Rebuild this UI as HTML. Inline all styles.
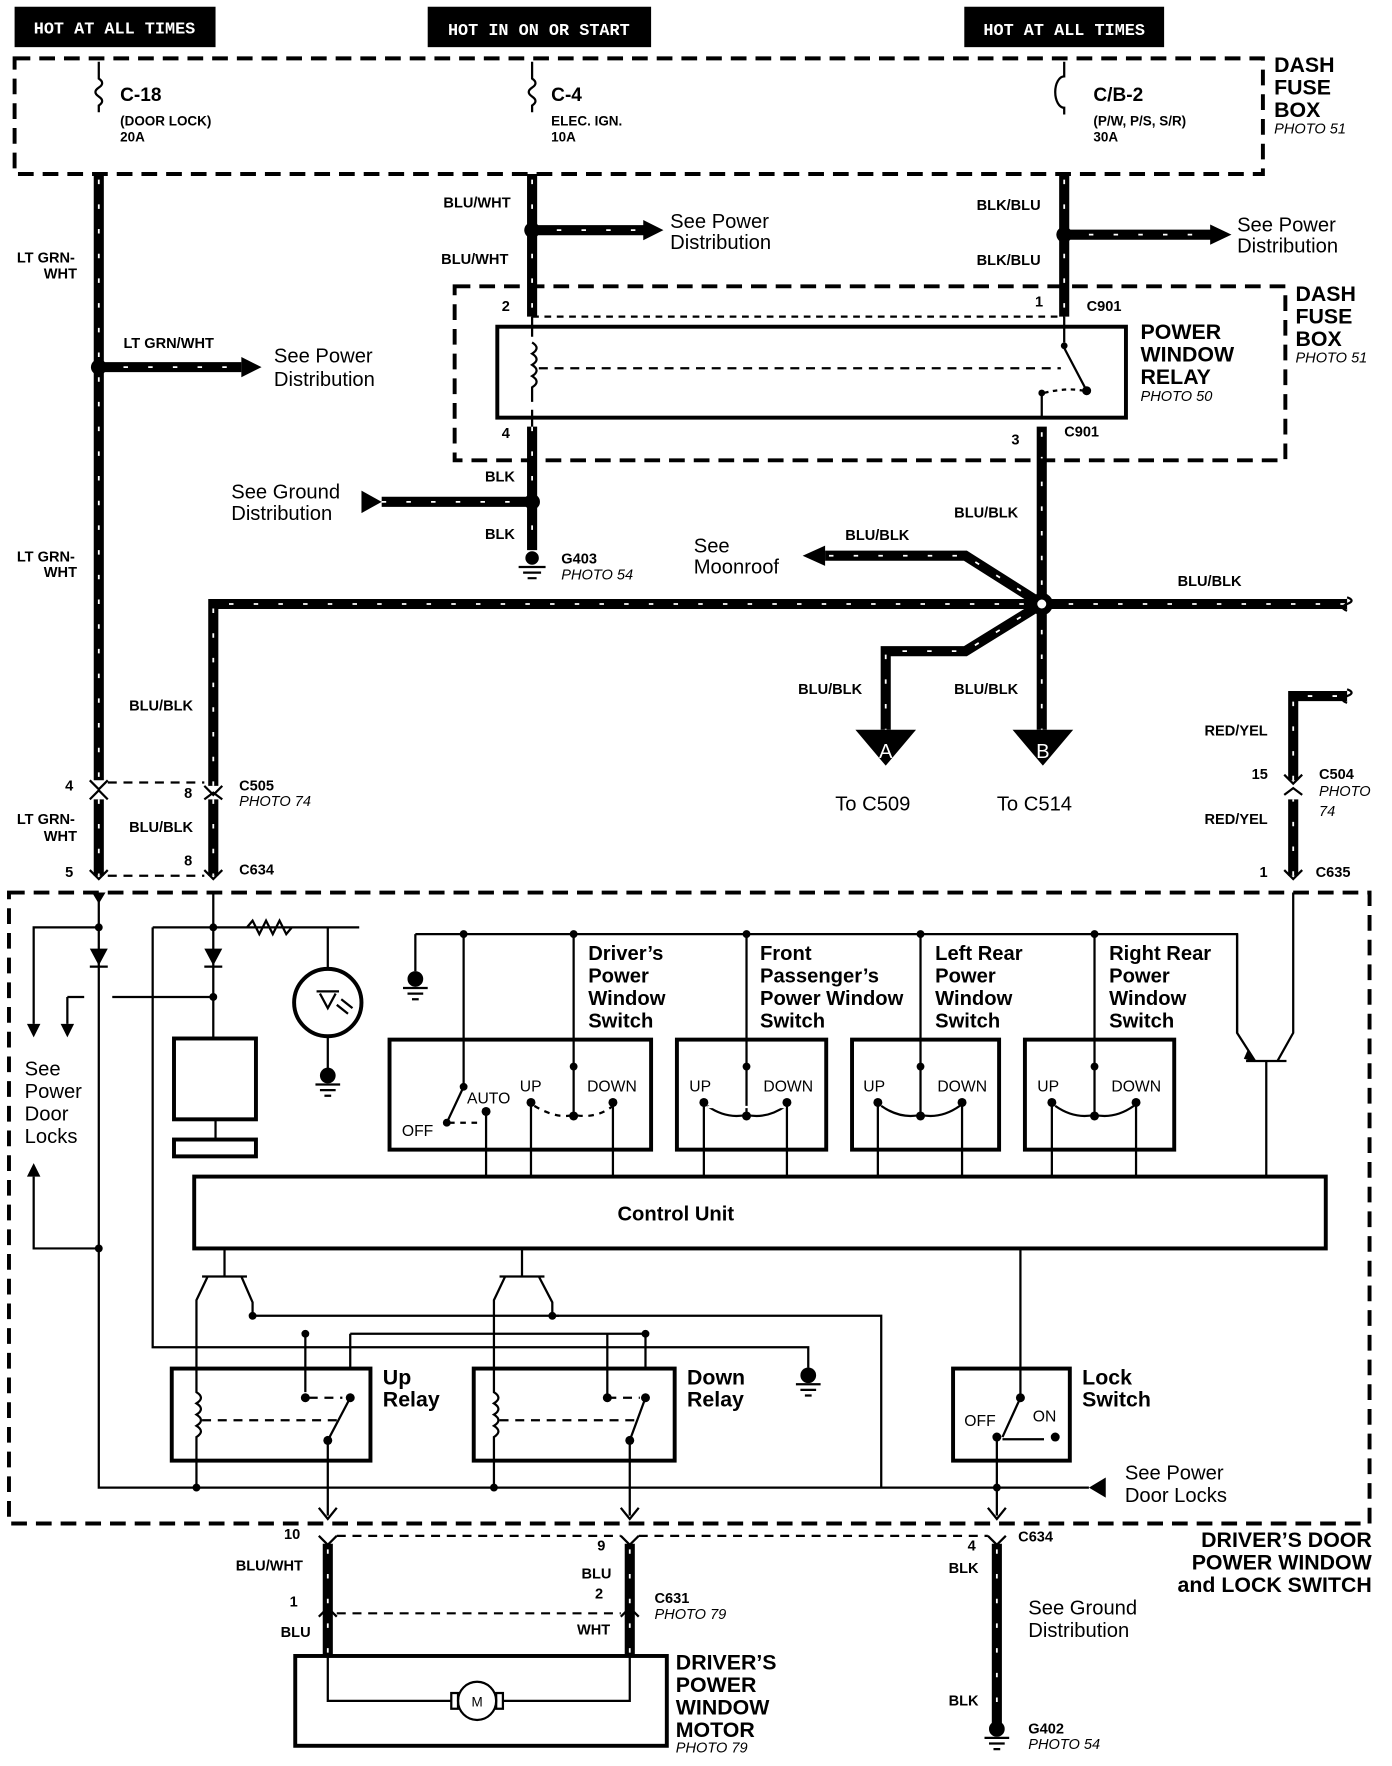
<!DOCTYPE html>
<html><head><style>
html,body{margin:0;padding:0;background:#fff}
svg{display:block}
text{font-family:"Liberation Sans",Arial,sans-serif;fill:#000}
.b{font-weight:bold}
.i{font-style:italic}
.tw{stroke:#000;stroke-width:9;fill:none}
.td{stroke:#fff;stroke-width:1.6;fill:none;stroke-dasharray:4 18}
.th{stroke:#000;stroke-width:2;fill:none}
.bx{stroke:#000;stroke-width:3.5;fill:none}
.dsh{stroke:#000;stroke-width:3.5;fill:none;stroke-dasharray:14 8}
.dl{stroke:#000;stroke-width:2;fill:none;stroke-dasharray:8 6}
</style></head><body>
<svg width="1392" height="1766" viewBox="0 0 1240 1573" preserveAspectRatio="none" xmlns="http://www.w3.org/2000/svg">
<rect width="1240" height="1573" fill="#fff"/>
<!-- header tabs -->
<rect x="13" y="6" width="179" height="36" fill="#000"/>
<text x="102" y="30" text-anchor="middle" font-size="15" style="fill:#fff;font-family:'Liberation Mono',monospace" class="b">HOT AT ALL TIMES</text>
<rect x="381" y="6" width="199" height="36" fill="#000"/>
<text x="480" y="31" text-anchor="middle" font-size="15" style="fill:#fff;font-family:'Liberation Mono',monospace" class="b">HOT IN ON OR START</text>
<rect x="859" y="6" width="178" height="36" fill="#000"/>
<text x="948" y="31" text-anchor="middle" font-size="15" style="fill:#fff;font-family:'Liberation Mono',monospace" class="b">HOT AT ALL TIMES</text>

<!-- fuse box -->
<rect x="13" y="52" width="1112" height="103" class="dsh"/>
<g class="th">
<path d="M88 55V70 q6 4 0 8 q-6 4 0 8 q6 4 0 8 V100"/>
<path d="M474 55V70 q6 4 0 8 q-6 4 0 8 q6 4 0 8 V100"/>
<path d="M948 55V68 a8 14 0 0 0 0 28 V102"/>
</g>
<g font-size="17" class="b"><text x="107" y="90">C-18</text><text x="491" y="90">C-4</text><text x="974" y="90">C/B-2</text></g>
<g font-size="12" class="b"><text x="107" y="112">(DOOR LOCK)</text><text x="107" y="126">20A</text>
<text x="491" y="112">ELEC. IGN.</text><text x="491" y="126">10A</text>
<text x="974" y="112">(P/W, P/S, S/R)</text><text x="974" y="126">30A</text></g>
<g font-size="19" class="b"><text x="1135" y="64">DASH</text><text x="1135" y="84">FUSE</text><text x="1135" y="104">BOX</text></g>
<text x="1135" y="119" font-size="13" class="i">PHOTO 51</text>

<!-- thick wires -->
<g>
<path class="tw" d="M88 155V695 M88 712V780"/>
<path class="td" d="M88 160V695 M88 712V780"/>
<path class="tw" d="M474 155V282 M474 380V490"/>
<path class="td" d="M474 160V282 M474 380V490"/>
<path class="tw" d="M948 155V282"/><path class="td" d="M948 160V282"/>
<path class="tw" d="M928 380V650"/><path class="td" d="M928 385V650"/>
<path class="tw" d="M190 700V538H1200"/><path class="td" d="M190 700V538H1200"/>
<path class="tw" d="M928 538L860 495H735"/><path class="td" d="M928 538L860 495H735"/>
<path class="tw" d="M928 538L860 580H789V650"/><path class="td" d="M928 538L860 580H789V650"/>
<path class="tw" d="M190 712V780"/><path class="td" d="M190 712V780"/>
<path class="tw" d="M1152 780V712 M1152 695V620H1200"/><path class="td" d="M1152 780V712 M1152 695V620H1200"/>
<path class="tw" d="M88 327H215"/><path class="td" d="M88 327H215"/>
<path class="tw" d="M474 205H575"/><path class="td" d="M474 205H575"/>
<path class="tw" d="M948 209H1080"/><path class="td" d="M948 209H1080"/>
<path class="tw" d="M340 447H474"/><path class="td" d="M340 447H474"/>
<path class="tw" d="M292 1375V1475 M561 1375V1475 M888 1375V1535"/>
<path class="td" d="M292 1380V1475 M561 1380V1475 M888 1380V1535"/>
</g>
<g fill="#000">
<circle cx="88" cy="327" r="7"/><circle cx="474" cy="205" r="7"/><circle cx="948" cy="209" r="7"/><circle cx="474" cy="447" r="7"/>
<circle cx="928" cy="538" r="10"/><circle cx="928" cy="538" r="4" fill="#fff"/>
<path d="M215 318L233 327L215 336Z"/><path d="M573 196L591 205L573 214Z"/><path d="M1078 200L1097 209L1078 218Z"/>
<path d="M322 437L340 447L322 457Z" /><path d="M735 486L715 495L735 504Z"/>
<path d="M762 650H816L789 682Z"/><path d="M902 650H956L929 682Z"/>
</g>
<text x="789" y="675" text-anchor="middle" font-size="18" fill="#fff" style="fill:#fff">A</text>
<text x="929" y="675" text-anchor="middle" font-size="18" style="fill:#fff">B</text>
<path d="M1200 532q8 3 0 6q-8 3 0 6 M1200 614q8 3 0 6q-8 3 0 6" class="th"/>

<!-- relay -->
<rect x="405" y="255" width="740" height="155" class="dsh"/>
<rect x="443" y="291" width="560" height="81" class="bx"/>
<g class="th"><path d="M474 282V300 M474 365V380 M474 305q8 5 0 10q8 5 0 10q8 5 0 10q8 5 0 10 V358"/>
<path d="M948 282V305 M948 310L968 348 M928 348V372"/>
<path d="M480 328H945" stroke-dasharray="8 6"/><path d="M930 350q20 -5 35 -2" stroke-dasharray="4 4"/>
<path d="M474 282H948" stroke-dasharray="6 5"/></g>
<g fill="#000"><circle cx="948" cy="308" r="3"/><circle cx="968" cy="348" r="4"/><circle cx="928" cy="350" r="3"/></g>
<g font-size="19" class="b"><text x="1016" y="302">POWER</text><text x="1016" y="322">WINDOW</text><text x="1016" y="342">RELAY</text>
<text x="1154" y="268">DASH</text><text x="1154" y="288">FUSE</text><text x="1154" y="308">BOX</text></g>
<text x="1016" y="357" font-size="13" class="i">PHOTO 50</text><text x="1154" y="323" font-size="13" class="i">PHOTO 51</text>

<!-- ground G403 -->
<g fill="#000"><circle cx="474" cy="497" r="6"/></g>
<path d="M462 505H486M466 510H482M470 515H478" class="th"/>

<!-- small labels -->
<g font-size="13" class="b">
<text x="15" y="234">LT GRN-</text><text x="39" y="248">WHT</text>
<text x="15" y="500">LT GRN-</text><text x="39" y="514">WHT</text>
<text x="110" y="310">LT GRN/WHT</text>
<text x="395" y="185">BLU/WHT</text><text x="393" y="235">BLU/WHT</text>
<text x="870" y="187">BLK/BLU</text><text x="870" y="236">BLK/BLU</text>
<text x="447" y="277">2</text><text x="922" y="273">1</text><text x="968" y="277">C901</text>
<text x="447" y="390">4</text><text x="901" y="396">3</text><text x="948" y="389">C901</text>
<text x="432" y="429">BLK</text><text x="432" y="480">BLK</text>
<text x="500" y="502">G403</text>
<text x="850" y="461">BLU/BLK</text><text x="753" y="481">BLU/BLK</text><text x="1049" y="522">BLU/BLK</text>
<text x="711" y="618">BLU/BLK</text><text x="850" y="618">BLU/BLK</text>
<text x="115" y="633">BLU/BLK</text>
<text x="58" y="704">4</text><text x="164" y="711">8</text><text x="213" y="704">C505</text>
<text x="15" y="734">LT GRN-</text><text x="39" y="749">WHT</text><text x="115" y="741">BLU/BLK</text>
<text x="58" y="781">5</text><text x="164" y="771">8</text><text x="213" y="779">C634</text>
<text x="1073" y="655">RED/YEL</text><text x="1073" y="734">RED/YEL</text>
<text x="1115" y="694">15</text><text x="1175" y="694">C504</text>
<text x="1122" y="781">1</text><text x="1172" y="781">C635</text>
</g>
<g font-size="13" class="i"><text x="500" y="516">PHOTO 54</text><text x="213" y="718">PHOTO 74</text><text x="1175" y="709">PHOTO</text><text x="1175" y="727">74</text></g>
<g font-size="18">
<text x="244" y="323">See Power</text><text x="244" y="344">Distribution</text>
<text x="597" y="203">See Power</text><text x="597" y="222">Distribution</text>
<text x="1102" y="206">See Power</text><text x="1102" y="225">Distribution</text>
<text x="206" y="444">See Ground</text><text x="206" y="463">Distribution</text>
<text x="618" y="492">See</text><text x="618" y="511">Moonroof</text>
<text x="744" y="722">To C509</text><text x="888" y="722">To C514</text>
</g>
<!-- connectors -->
<g class="th" stroke-width="3">
<path d="M80 695l8 8l8-8 M80 712l8-8l8 8 M182 700l8 8l8-8 M182 712l8-6l8 6 M80 775l8 8l8-8 M182 775l8 8l8-8 M1144 690l8 8l8-8 M1144 708l8-6l8 6 M1144 775l8 8l8-8"/>
</g>
<path d="M96 697H182 M96 780H182" class="dl"/>

<!-- door switch box -->
<rect x="8" y="795" width="1212" height="562" class="dsh"/>
<g class="th">
<path d="M88 795V1325H970"/>
<path d="M88 826H30V912 M60 888V912 M60 888H75 M100 888H190"/>
<path d="M30 1048V1112H88"/>
<path d="M190 795V925 M192 997V1015"/>
<path d="M136 826H320 M220 826l5-6l6 12l6-12l6 12l6-12l6 12l5-6 M264 826H292V863 M292 923V955"/>
<path d="M136 826V1200H720V1218"/>
<path d="M370 832H1102V920L1118 945 M370 832V865"/>
<path d="M1152 795V920L1138 945 M1110 945H1146 M1128 945V1048"/>
</g>
<g fill="#000"><path d="M80 845H96L88 860Z M182 845H198L190 860Z M24 912H36L30 924Z M54 912H66L60 924Z M24 1048H36L30 1036Z M1112 934L1118 946L1108 943Z M82 795L88 805L94 795"/>
<rect x="80" y="860" width="16" height="2"/><rect x="182" y="860" width="16" height="2"/>
<circle cx="88" cy="826" r="3.5"/><circle cx="190" cy="826" r="3.5"/><circle cx="190" cy="888" r="3.5"/><circle cx="88" cy="1112" r="3.5"/>
<circle cx="413" cy="832" r="3.5"/><circle cx="511" cy="832" r="3.5"/><circle cx="665" cy="832" r="3.5"/><circle cx="820" cy="832" r="3.5"/><circle cx="975" cy="832" r="3.5"/>
<circle cx="370" cy="872" r="7"/><circle cx="292" cy="958" r="7"/><circle cx="720" cy="1225" r="7"/>
</g>
<path d="M359 880H381M363 885H377M367 890H373 M281 966H303M285 971H299M289 976H295 M709 1233H731M713 1238H727M717 1243H723" class="th"/>
<circle cx="292" cy="893" r="30" class="bx" stroke-width="3"/>
<path d="M282 883H302 M285 885L292 898L299 885 M300 895l10 8 M304 890l10 8" class="th"/>
<rect x="155" y="925" width="73" height="72" class="bx"/>
<rect x="155" y="1015" width="73" height="15" class="bx"/>
<g font-size="18"><text x="22" y="958">See</text><text x="22" y="978">Power</text><text x="22" y="998">Door</text><text x="22" y="1018">Locks</text></g>

<!-- switches -->
<rect x="347" y="926" width="233" height="98" class="bx"/>
<rect x="603" y="926" width="133" height="98" class="bx"/>
<rect x="759" y="926" width="131" height="98" class="bx"/>
<rect x="913" y="926" width="133" height="98" class="bx"/>
<g class="th">
<path d="M413 832V968L398 1000 M433 988V1048 M473 982V1048 M546 982V1048 M511 832V992"/>
<path d="M400 1000H430 M476 985q20 12 35 8q20 4 35-8" stroke-dasharray="5 5"/>
<path d="M665 832V992 M627 982V1048 M701 982V1048 M630 985q17 12 35 8q18 4 35-8" />
<path d="M820 832V992 M782 982V1048 M857 982V1048 M785 985q17 12 35 8q18 4 35-8"/>
<path d="M975 832V992 M937 982V1048 M1012 982V1048 M940 985q17 12 35 8q18 4 35-8"/>
</g>
<g fill="#fff"><path d="M630 987h70v-2h-70z M785 987h70 M940 987h70"/></g>
<g fill="#000">
<circle cx="413" cy="968" r="3.5"/><circle cx="398" cy="1000" r="3.5"/><circle cx="433" cy="990" r="4"/><circle cx="473" cy="982" r="4"/><circle cx="546" cy="982" r="4"/><circle cx="511" cy="994" r="4"/>
<circle cx="627" cy="982" r="4"/><circle cx="701" cy="982" r="4"/><circle cx="665" cy="994" r="4"/><circle cx="665" cy="950" r="3.5"/>
<circle cx="782" cy="982" r="4"/><circle cx="857" cy="982" r="4"/><circle cx="820" cy="994" r="4"/><circle cx="820" cy="950" r="3.5"/>
<circle cx="937" cy="982" r="4"/><circle cx="1012" cy="982" r="4"/><circle cx="975" cy="994" r="4"/><circle cx="975" cy="950" r="3.5"/><circle cx="511" cy="950" r="3.5"/>
</g>
<g font-size="14"><text x="358" y="1012">OFF</text><text x="416" y="983">AUTO</text><text x="463" y="972">UP</text><text x="523" y="972">DOWN</text>
<text x="614" y="972">UP</text><text x="680" y="972">DOWN</text><text x="769" y="972">UP</text><text x="835" y="972">DOWN</text><text x="924" y="972">UP</text><text x="990" y="972">DOWN</text></g>
<g font-size="18" class="b">
<text x="524" y="855">Driver’s</text><text x="524" y="875">Power</text><text x="524" y="895">Window</text><text x="524" y="915">Switch</text>
<text x="677" y="855">Front</text><text x="677" y="875">Passenger’s</text><text x="677" y="895">Power Window</text><text x="677" y="915">Switch</text>
<text x="833" y="855">Left Rear</text><text x="833" y="875">Power</text><text x="833" y="895">Window</text><text x="833" y="915">Switch</text>
<text x="988" y="855">Right Rear</text><text x="988" y="875">Power</text><text x="988" y="895">Window</text><text x="988" y="915">Switch</text>
</g>
<path d="M1102 832V920" class="th"/>

<!-- control unit -->
<rect x="173" y="1048" width="1008" height="64" class="bx"/>
<text x="602" y="1087" text-anchor="middle" font-size="18" class="b">Control Unit</text>

<!-- transistors & relays -->
<g class="th">
<path d="M200 1112V1137 M180 1137H220 M185 1137L175 1158V1219 M215 1137L225 1160V1172H498 M312 1188H575V1219 M272 1188V1240"/>
<path d="M465 1112V1137 M445 1137H485 M450 1137L440 1158V1219 M480 1137L492 1160V1172 M720 1200V1200"/>
<path d="M493 1172H785V1325"/>
<path d="M175 1301V1325 M440 1301V1325"/>
<path d="M175 1219V1240q8 5 0 10q8 5 0 10q8 5 0 10q8 5 0 10V1301 M440 1219V1240q8 5 0 10q8 5 0 10q8 5 0 10q8 5 0 10V1301"/>
<path d="M312 1188V1219 M312 1245L292 1283 M292 1283V1350 M575 1245L561 1283 M561 1283V1350 M541 1188V1245"/>
<path d="M180 1265H300 M445 1265H570 M275 1245H305 M541 1245H570" stroke-dasharray="8 6"/>
<path d="M909 1112V1245 M909 1245L893 1280 M888 1280V1350 M893 1282H930" />
</g>
<rect x="153" y="1219" width="177" height="82" class="bx"/>
<rect x="422" y="1219" width="179" height="82" class="bx"/>
<rect x="849" y="1219" width="104" height="82" class="bx"/>
<g fill="#000"><circle cx="312" cy="1245" r="4"/><circle cx="272" cy="1245" r="4"/><circle cx="292" cy="1283" r="4"/><circle cx="575" cy="1245" r="4"/><circle cx="541" cy="1245" r="4"/><circle cx="561" cy="1283" r="4"/>
<circle cx="225" cy="1172" r="3.5"/><circle cx="272" cy="1188" r="3.5"/><circle cx="492" cy="1172" r="3.5"/><circle cx="575" cy="1188" r="3.5"/>
<circle cx="909" cy="1245" r="4"/><circle cx="888" cy="1280" r="4"/><circle cx="940" cy="1280" r="4"/><circle cx="888" cy="1325" r="3.5"/><circle cx="175" cy="1325" r="3.5"/><circle cx="440" cy="1325" r="3.5"/>
<path d="M985 1316V1334L970 1325Z"/></g>
<g font-size="19" class="b"><text x="341" y="1233">Up</text><text x="341" y="1253">Relay</text><text x="612" y="1233">Down</text><text x="612" y="1253">Relay</text>
<text x="964" y="1233">Lock</text><text x="964" y="1253">Switch</text></g>
<g font-size="14"><text x="859" y="1270">OFF</text><text x="920" y="1266">ON</text></g>
<g font-size="18"><text x="1002" y="1318">See Power</text><text x="1002" y="1338">Door  Locks</text></g>
<path d="M284 1343l8 10l8-10 M553 1343l8 10l8-10 M880 1343l8 10l8-10" class="th"/>

<!-- bottom -->
<g class="th" stroke-width="3"><path d="M284 1368l8 8l8-8 M553 1368l8 8l8-8 M880 1368l8 8l8-8 M284 1440l8-8l8 8 M553 1440l8-8l8 8"/></g>
<path d="M300 1368H553 M300 1437H553 M569 1368H880" class="dl"/>
<rect x="263" y="1475" width="331" height="80" class="bx"/>
<path d="M292 1475V1515H402 M561 1475V1515H448" class="th"/>
<circle cx="425" cy="1515" r="17" class="th"/><rect x="402" y="1508" width="6" height="14" class="th"/><rect x="442" y="1508" width="6" height="14" class="th"/>
<text x="425" y="1520" font-size="12" text-anchor="middle">M</text>
<circle cx="888" cy="1540" r="7"/><path d="M877 1548H899M881 1553H895M885 1558H891" class="th"/>
<g font-size="13" class="b">
<text x="253" y="1371">10</text><text x="210" y="1399">BLU/WHT</text><text x="258" y="1431">1</text><text x="250" y="1458">BLU</text>
<text x="532" y="1381">9</text><text x="518" y="1406">BLU</text><text x="530" y="1424">2</text><text x="514" y="1456">WHT</text>
<text x="583" y="1428">C631</text><text x="862" y="1381">4</text><text x="845" y="1401">BLK</text><text x="907" y="1373">C634</text>
<text x="845" y="1519">BLK</text><text x="916" y="1544">G402</text></g>
<g font-size="13" class="i"><text x="583" y="1442">PHOTO 79</text><text x="916" y="1558">PHOTO 54</text><text x="602" y="1561">PHOTO 79</text></g>
<g font-size="18"><text x="916" y="1438">See Ground</text><text x="916" y="1458">Distribution</text></g>
<g font-size="19" class="b"><text x="1222" y="1378" text-anchor="end">DRIVER’S DOOR</text><text x="1222" y="1398" text-anchor="end">POWER WINDOW</text><text x="1222" y="1418" text-anchor="end">and LOCK SWITCH</text>
<text x="602" y="1487">DRIVER’S</text><text x="602" y="1507">POWER</text><text x="602" y="1527">WINDOW</text><text x="602" y="1547">MOTOR</text></g>
</svg>
</body></html>
